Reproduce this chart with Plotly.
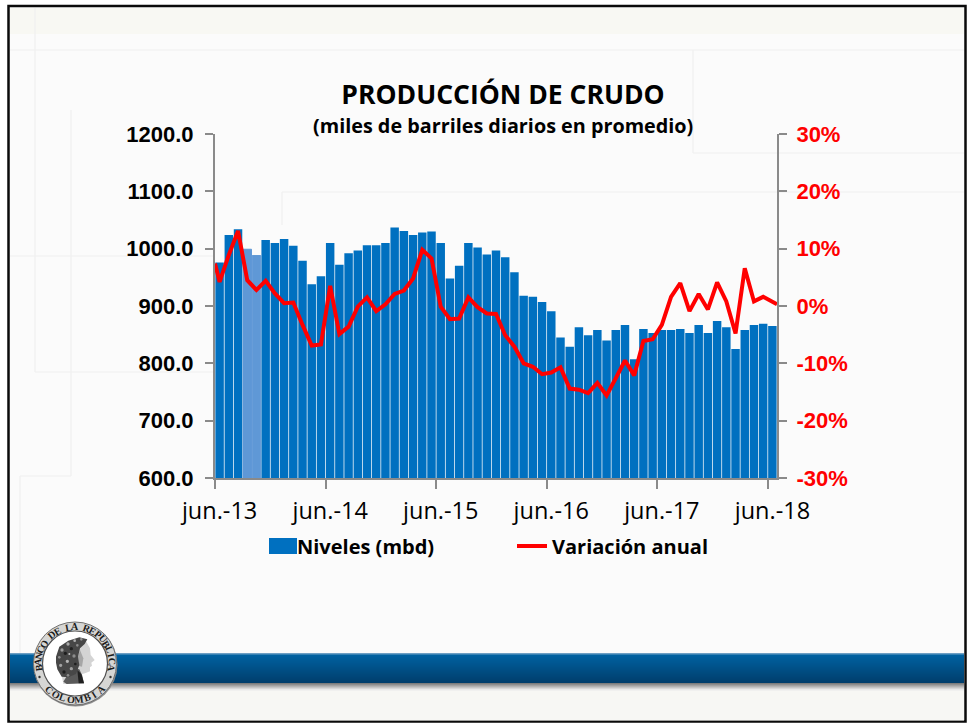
import math
import plotly.graph_objects as go

# ---------- data ----------
months = list(range(61))                     # jun-13 ... jun-18, monthly
niveles = [976, 1024, 1034, 999, 988, 1015, 1010, 1017, 1005, 979, 938, 952, 1010,
           972, 992, 997, 1006, 1006, 1010, 1037, 1031, 1024, 1028, 1030, 1010, 948,
           970, 1010, 1002, 990, 997, 985, 959, 918, 916, 907, 891, 845, 829, 863,
           849, 858, 840, 858, 867, 807, 860, 853, 858, 858, 860, 853, 867, 853,
           874, 863, 825, 858, 867, 869, 865]
variacion = [4.2, 8.9, 13.1, 4.5, 2.8, 4.4, 2.2, 0.5, 0.6, -3.3, -6.9, -6.7, 3.5,
             -4.9, -3.6, -0.1, 1.5, -0.9, 0.3, 2.1, 2.7, 4.8, 9.8, 8.3, -0.1, -2.3,
             -2.2, 1.5, -0.2, -1.3, -1.4, -5.1, -7.1, -10.0, -10.6, -11.9, -11.6, -10.7,
             -14.4, -14.6, -15.2, -13.4, -15.6, -12.6, -9.5, -12.1, -6.1, -5.8, -3.3,
             1.6, 4.0, -0.9, 2.1, -0.6, 4.1, 0.8, -4.8, 6.6, 0.8, 1.6, 0.8]
variacion_inicio = 7.4      # line begins at the left axis
variacion_fin = 0.3         # and ends at the right axis
tick_labels = ["jun.-13", "jun.-14", "jun.-15", "jun.-16", "jun.-17", "jun.-18"]
tick_months = [0, 12, 24, 36, 48, 60]
y_left = [600, 700, 800, 900, 1000, 1100, 1200]
y_left_text = ["600.0", "700.0", "800.0", "900.0", "1000.0", "1100.0", "1200.0"]
y_right = [-30, -20, -10, 0, 10, 20, 30]
y_right_text = ["-30%", "-20%", "-10%", "0%", "10%", "20%", "30%"]
meses_claros = [3, 4]

# ---------- geometry ----------
W, H = 969, 723
L, R, T, B = 215, 777, 134, 478
def px(x): return (x - L) / (R - L)
def py(y): return (B - y) / (B - T)

shapes, annotations = [], []

def rect(x0, y0, x1, y1, fill, layer="below", line=None, lw=0):
    shapes.append(dict(type="rect", xref="paper", yref="paper", x0=px(x0), x1=px(x1),
                       y0=py(y0), y1=py(y1), fillcolor=fill, layer=layer,
                       line=dict(color=line or fill, width=lw)))

def seg(x0, y0, x1, y1, color="#f0f0f0", w=1.2, layer="below"):
    shapes.append(dict(type="line", xref="paper", yref="paper", x0=px(x0), x1=px(x1),
                       y0=py(y0), y1=py(y1), layer=layer, line=dict(color=color, width=w)))

def poly(points, fill, layer="above"):
    d = "M" + " L".join(f"{px(x):.5f},{py(y):.5f}" for x, y in points) + " Z"
    shapes.append(dict(type="path", xref="paper", yref="paper", path=d, fillcolor=fill,
                       layer=layer, line=dict(width=0)))

def circle(cx, cy, r, fill, line=None, lw=0, layer="above"):
    shapes.append(dict(type="circle", xref="paper", yref="paper", x0=px(cx - r), x1=px(cx + r),
                       y0=py(cy + r), y1=py(cy - r), fillcolor=fill, layer=layer,
                       line=dict(color=line or fill, width=lw)))

# page and frame
rect(8.5, 6, 965.5, 721.5, "#fbfbfb", line="#0a0a0a", lw=2.5)
rect(10, 8, 964, 34, "#f8f8f3")
rect(10, 690, 964, 720.5, "#f7f7f4")
# faint background construction lines
for a in [(10, 50, 964, 50), (35, 8, 35, 372), (35, 372, 215, 372), (71, 110, 71, 476),
          (20, 476, 71, 476), (20, 476, 20, 653), (10, 256, 215, 256),
          (282, 192, 964, 192), (282, 192, 282, 225), (693, 50, 693, 153), (693, 153, 964, 153)]:
    seg(*a)
# band with gradient and shadow (each strip overlaps the next one)
steps = 29
for i in range(7):
    v = 125 + i * 18
    rect(10, 683 + i, 964, 684.5 + i, f"rgb({v},{v},{v})")
for i in range(steps):
    t = i / (steps - 1)
    r_, g_, b_ = 0, round(98 - 36 * t), round(162 - 54 * t)
    rect(10, 654 + i, 964, 656 + i if i < steps - 1 else 683, f"rgb({r_},{g_},{b_})")
rect(10, 653, 964, 654.5, "#6d9fc4")

# ---------- seal ----------
cx, cy = 75, 663.5
circle(cx + 0.5, cy + 1, 42, "#8d8d8d")
circle(cx, cy, 41.5, "#d6d6d4", line="#707070", lw=1)
circle(cx, cy, 32.5, "#ffffff", line="#505050", lw=1.2)

def arc_text(text, start, end, radius, top=True):
    n = len(text)
    for i, ch in enumerate(text):
        a = start + (end - start) * i / (n - 1)
        rad = math.radians(a)
        x = cx + radius * math.sin(rad)
        y = cy - radius * math.cos(rad)
        rot = a if top else a - 180
        annotations.append(dict(text=ch, x=px(x), y=py(y), xref="paper", yref="paper", showarrow=False,
                                textangle=rot, xanchor="center", yanchor="middle",
                                font=dict(family="Liberation Serif", size=10, color="#1c1c1c", weight="bold")))

arc_text("BANCO DE LA REPUBLICA", -97, 97, 37, True)
arc_text("COLOMBIA", 225, 135, 36.5, False)
for sx in (-1, 1):
    circle(cx + sx * 35.5, cy + 13.5, 1.2, "#333333")

Z = lambda pts: [(x / 3, 600 + y / 3) for x, y in pts]
# face and neck, light with a darker shaded neck
poly(Z([(222, 130), (258, 124), (270, 145), (272, 165), (284, 180), (274, 188), (276, 197),
        (270, 202), (270, 214), (255, 220), (246, 222), (252, 250), (190, 252), (185, 225)]), "#d4d4d4")
poly(Z([(215, 205), (238, 208), (246, 225), (252, 250), (200, 252), (190, 245)]), "#5a5a5a")
poly(Z([(232, 210), (244, 222), (252, 250), (236, 250)]), "#202020")
poly(Z([(240, 150), (250, 175), (246, 200), (236, 198), (234, 170)]), "#a6a6a6")
# hair, mottled with laurel leaves
poly(Z([(168, 170), (178, 140), (205, 122), (238, 112), (262, 118), (254, 132), (240, 145),
        (234, 170), (238, 195), (228, 222), (205, 232), (185, 230), (172, 208), (168, 188)]), "#474747")
hojas = [(186, 150, 5, "#9a9a9a"), (204, 132, 5, "#a8a8a8"), (224, 122, 4, "#b0b0b0"), (244, 118, 4, "#8f8f8f"),
         (178, 172, 4, "#8c8c8c"), (196, 160, 5, "#1e1e1e"), (214, 146, 5, "#202020"), (232, 136, 4, "#8c8c8c"),
         (182, 196, 5, "#a2a2a2"), (202, 184, 5, "#b4b4b4"), (222, 168, 5, "#8c8c8c"), (192, 216, 5, "#1e1e1e"),
         (214, 206, 5, "#9e9e9e"), (204, 226, 4, "#8a8a8a"), (226, 192, 4, "#1f1f1f"), (208, 162, 3, "#c4c4c4")]
for lx, ly, lr, c in hojas:
    circle(lx / 3, 600 + ly / 3, lr / 3, c)

# ---------- legend swatch sized as in the picture ----------
rect(269, 538, 297, 554, "#0070C0", layer="above")

# ---------- subtitle ----------
annotations.append(dict(text="<b>(miles de barriles diarios en promedio)</b>", x=px(503), y=py(126),
                        xref="paper", yref="paper", showarrow=False, xanchor="center", yanchor="middle",
                        font=dict(family="Open Sans", size=19.8, color="#000000")))

# ---------- traces ----------
bar_colors = ["#5F98D6" if m in meses_claros else "#0070C0" for m in months]
bar_edges = [1 if m in meses_claros else 0 for m in months]
fig = go.Figure()
fig.add_trace(go.Bar(x=months, y=niveles, name="Niveles (mbd)", legend="legend",
                     marker=dict(color=bar_colors, line=dict(width=bar_edges, color=bar_colors))))
fig.add_trace(go.Scatter(x=[months[0] - 0.5] + months + [months[-1] + 0.5],
                         y=[variacion_inicio] + variacion + [variacion_fin],
                         name="Variación anual", mode="lines", yaxis="y2", legend="legend2",
                         line=dict(color="#FF0000", width=4)))

AX = "#8a8a8a"
LEG_FONT = dict(family="Open Sans", size=20, color="#000000", weight="bold")
fig.update_layout(
    width=W, height=H, autosize=False,
    margin=dict(l=L, r=W - R, t=T, b=H - B, pad=0, autoexpand=False),
    paper_bgcolor="#ffffff", plot_bgcolor="rgba(0,0,0,0)",
    bargap=0.08, shapes=shapes, annotations=annotations,
    title=dict(text="<b>PRODUCCIÓN DE CRUDO</b>", x=503 / W, y=1 - 95 / H, xanchor="center", yanchor="middle",
               font=dict(family="Open Sans", size=26.5, color="#000000")),
    xaxis=dict(range=[-0.5, 60.5], tickmode="array", tickvals=tick_months, ticktext=tick_labels,
               ticks="outside", ticklen=11, tickcolor="rgba(0,0,0,0)", showline=True, linecolor=AX, linewidth=2,
               showgrid=False, zeroline=False,
               tickfont=dict(family="Open Sans", size=23.5, color="#000000"),
               minor=dict(tickmode="array", tickvals=[m - 0.5 for m in tick_months], ticks="outside",
                          ticklen=9, tickcolor=AX, tickwidth=2, showgrid=False)),
    yaxis=dict(range=[600, 1200], tickmode="array", tickvals=y_left, ticktext=y_left_text,
               ticks="outside", ticklen=8, tickcolor=AX, tickwidth=2, showline=True, linecolor=AX, linewidth=2,
               showgrid=False, zeroline=False, ticklabelstandoff=7,
               tickfont=dict(family="Liberation Sans", size=22, color="#000000", weight="bold")),
    yaxis2=dict(range=[-30, 30], overlaying="y", side="right", tickmode="array", tickvals=y_right,
                ticktext=y_right_text, ticks="outside", ticklen=8, tickcolor=AX, tickwidth=2,
                showline=True, linecolor=AX, linewidth=2, showgrid=False, zeroline=False, ticklabelstandoff=5,
                tickfont=dict(family="Liberation Sans", size=22, color="#FF0000", weight="bold")),
    showlegend=True,
    legend=dict(x=px(257), y=py(546), xanchor="left", yanchor="middle", bgcolor="rgba(0,0,0,0)",
                itemclick=False, itemdoubleclick=False, font=LEG_FONT),
    legend2=dict(x=px(512), y=py(546), xanchor="left", yanchor="middle", bgcolor="rgba(0,0,0,0)",
                 itemclick=False, itemdoubleclick=False, font=LEG_FONT),
)

fig.write_html("out.html", config=dict(displayModeBar=False, responsive=False),
               post_script="document.body.style.margin='0';document.body.style.overflow='hidden';")
